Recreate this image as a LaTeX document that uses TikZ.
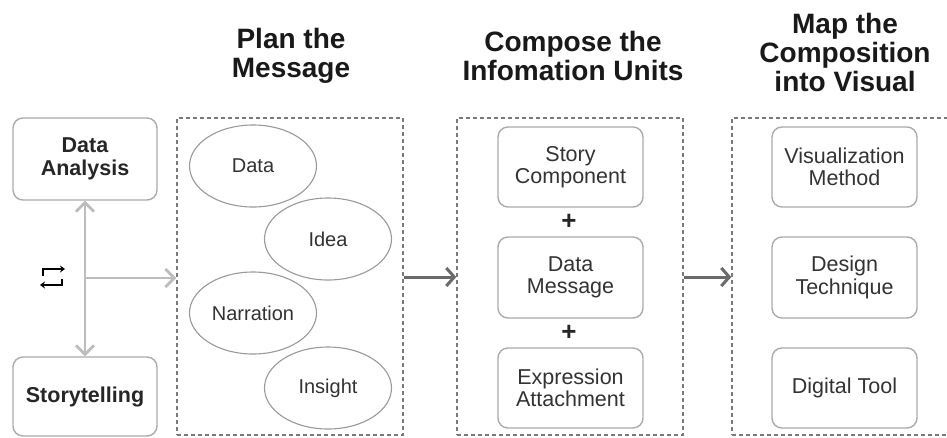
\documentclass[tikz,border=0pt]{standalone}
\usepackage{fontspec}
\setmainfont{Liberation Sans}
\usetikzlibrary{arrows.meta,shapes.geometric}
\definecolor{dashgray}{HTML}{7A7A7A}
\definecolor{boxgray}{HTML}{ABABAB}
\definecolor{ringgray}{HTML}{9A9A9A}
\definecolor{linkgray}{HTML}{BDBDBD}
\definecolor{flowgray}{HTML}{6A6A6A}
\definecolor{textgray}{HTML}{333333}
\tikzset{
	stage/.style={draw=dashgray, line width=1.4pt, dash pattern=on 4pt off 3pt, minimum width=226pt, minimum height=317pt, inner sep=0pt},
	unit/.style={draw=boxgray, line width=1.4pt, rounded corners=10pt, minimum width=145pt, minimum height=80pt, inner sep=0pt, align=center, text=textgray, font=\fontsize{21.5}{22.5}\selectfont},
	side/.style={unit, minimum width=144pt, font=\fontsize{21.5}{22.5}\selectfont\bfseries, text=black!85},
	thought/.style={ellipse, draw=ringgray, line width=1.1pt, minimum width=127pt, minimum height=82pt, inner sep=0pt, text=textgray, font=\fontsize{20}{21}\selectfont},
	heading/.style={align=center, text=black!90, font=\fontsize{28}{29}\selectfont\bfseries},
	plus/.style={text=black!85, font=\fontsize{26}{26}\selectfont\bfseries},
	barb/.tip={Straight Barb[length=9pt,width=18pt]},
	link/.style={draw=linkgray, line width=2.8pt},
	flow/.style={draw=flowgray, line width=3pt, arrows={-Straight Barb[length=8pt,width=18pt]}},
	swap/.style={line width=2pt, arrows={-Stealth[length=5pt,width=7pt]}}
}

\begin{document}
\begin{tikzpicture}[x=1pt, y=-1pt]
		%%%%% START %%%%%
		\clip (0, 0) rectangle (947, 437);
		\fill[white] (0, 0) rectangle (947, 437);
		
		% titles
		\node[heading] (tplan) at (291, 56) {Plan the\\Message};
		\node[heading] (tcompose) at (573, 56) {Compose the\\Infomation Units};
		\node[heading] (tmap) at (845, 52.5) {Map the\\Composition\\into Visual};
		
		% left side
		\node[side, minimum height=82pt] (analysis) at (85, 159) {Data\\Analysis};
		\node[side, minimum height=79pt] (story) at (85, 396.5) {Storytelling};
		\coordinate (hub) at (85, 278);
		
		\draw[swap] (43, 276) -- (43, 269) -- (65, 269);
		\draw[swap] (62, 279) -- (62, 285) -- (40, 285);
		
		% stages
		\node[stage] (plan) at (290, 276.5) {};
		\node[stage] (compose) at (570, 276.5) {};
		\node[stage] (map) at (845, 276.5) {};
		
		\node[thought] (data) at (253, 166) {Data};
		\node[thought] (idea) at (328, 239) {Idea};
		\node[thought] (narration) at (253, 313) {Narration};
		\node[thought] (insight) at (328, 388) {Insight};
		
		\node[unit] (component) at (570.5, 167) {Story\\Component};
		\node[plus] (plusa) at (569, 222) {+};
		\node[unit, minimum height=81pt] (message) at (570.5, 277.5) {Data\\Message};
		\node[plus] (plusb) at (569, 333) {+};
		\node[unit] (attachment) at (570.5, 388) {Expression\\Attachment};
		
		\node[unit] (method) at (844.5, 167) {Visualization\\Method};
		\node[unit, minimum height=81pt] (technique) at (844.5, 277.5) {Design\\Technique};
		\node[unit] (tool) at (844.5, 388) {Digital Tool};
		
		% connectors
		\draw[link, arrows={barb-barb}] (analysis) -- (story);
		\draw[link, arrows={-barb}] (hub) -- (hub -| plan.west);
		\draw[flow] (plan.east |- 0, 277) -- (compose.west |- 0, 277);
		\draw[flow] (compose.east |- 0, 277) -- (map.west |- 0, 277);
		
		%%%%% END %%%%%
	\end{tikzpicture}
\end{document}
